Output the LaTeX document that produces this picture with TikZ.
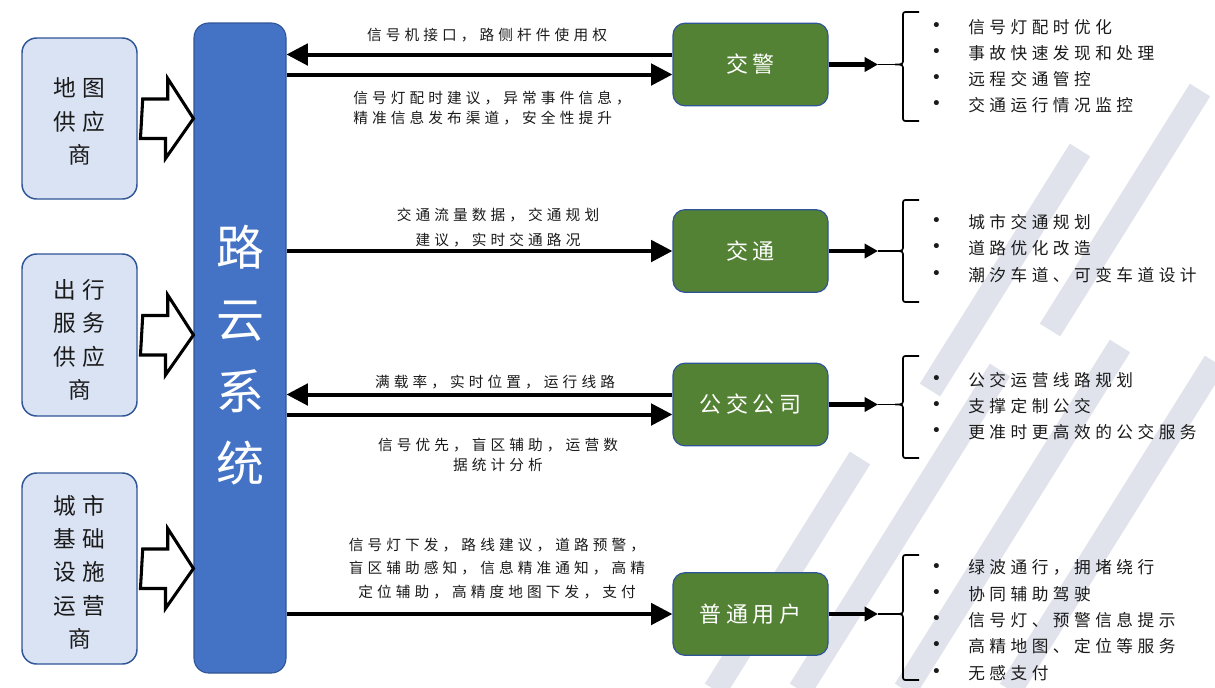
\documentclass[tikz,border=0pt]{standalone}
\usepackage{fontspec}
\setmainfont{Noto Sans CJK SC}
\newfontfamily\lblfont[LetterSpace=28]{Noto Sans CJK SC}
\newfontfamily\itemfont[LetterSpace=27]{Noto Sans CJK SC}
\newfontfamily\boxfont[LetterSpace=26]{Noto Sans CJK SC}
\newfontfamily\greenfont[LetterSpace=22]{Noto Sans CJK SC}
\newfontfamily\roadfont{Noto Sans CJK SC}
\newfontfamily\dotfont{DejaVu Sans}
\usetikzlibrary{arrows.meta,calc}
\definecolor{roadblue}{HTML}{4472C4}
\definecolor{edgeblue}{HTML}{2F5597}
\definecolor{lightblue}{HTML}{DAE3F3}
\definecolor{leafgreen}{HTML}{548235}
\definecolor{wmark}{HTML}{E0E3EC}
\definecolor{txt}{HTML}{1A1A1A}
\tikzset{
  srcbox/.style={draw=edgeblue, line width=1.1pt, fill=lightblue, rounded corners=11pt, minimum width=86.25pt, inner sep=0pt},
  roadbox/.style={draw=edgeblue, line width=0.8pt, fill=roadblue, rounded corners=11pt, minimum width=69pt, minimum height=487.5pt, inner sep=0pt},
  leaf/.style={draw=edgeblue, line width=0.9pt, fill=leafgreen, rounded corners=9pt, minimum width=116.25pt, minimum height=62pt, inner sep=0pt, text=white, font=\greenfont\fontsize{16.5}{20}\selectfont},
  srctext/.style={font=\boxfont\fontsize{17}{25}\selectfont, align=center, text=txt, inner sep=0pt},
  lbl/.style={font=\lblfont\fontsize{11}{15}\selectfont, align=center, text=txt, inner sep=0pt},
  itemtxt/.style={font=\itemfont\fontsize{12.5}{15}\selectfont, anchor=west, text=txt, inner sep=0pt},
  bulletdot/.style={font=\dotfont\fontsize{13}{15}\selectfont, anchor=west, text=txt, inner sep=0pt},
  flow/.style={line width=3pt, -{Triangle[length=16pt,width=16pt]}},
  outarr/.style={line width=3.5pt, -{Triangle[length=10pt,width=10.5pt]}},
  blockarr/.style={draw=black, line width=2.3pt, fill=white, line join=miter},
  bracesty/.style={line width=1.3pt},
  wm/.style={line width=18pt, draw=wmark, line cap=butt}
}
\newcommand\mybrace[4]{% x of spine, top, middle, bottom
  \draw[bracesty] (#1+16,#2) -- (#1+5,#2) .. controls (#1,#2) .. (#1,#2+5)
    -- (#1,#3-6) .. controls (#1,#3) .. (#1-8,#3) .. controls (#1,#3) .. (#1,#3+6)
    -- (#1,#4-5) .. controls (#1,#4) .. (#1+5,#4) -- (#1+16,#4);}
\begin{document}
\begin{tikzpicture}[x=0.75pt,y=-0.75pt]
\useasboundingbox (0,0) rectangle (1215,687);
% watermark
\draw[wm] (715,690) -- (860,458);
\draw[wm] (800,690) -- (1000,370);
\draw[wm] (905,690) -- (1120,346);
\draw[wm] (1010,690) -- (1215,362);
\draw[wm] (930,390) -- (1080,150);
\draw[wm] (1050,330) -- (1200,90);

% left source boxes
\node[srcbox, minimum height=120.75pt] (lb1) at (79.5,118.5) {};
\node[srcbox, minimum height=121.5pt] (lb2) at (79.5,335) {};
\node[srcbox, minimum height=143.25pt] (lb3) at (79.5,568.5) {};
\node[srctext] (lt1) at (79.5,121.5) {地图\\供应\\商};
\node[srctext] (lt2) at (79.5,340) {出行\\服务\\供应\\商};
\node[srctext] (lt3) at (79.5,572) {城市\\基础\\设施\\运营\\商};

% road cloud system
\node[roadbox] (road) at (240,348) {};
\node[text=white, font=\roadfont\fontsize{36}{54}\selectfont, align=center, inner sep=0pt] (roadtxt) at (240,355) {路\\云\\系\\统};

% block arrows
\foreach \s in {1,2,3}{
  \draw[blockarr] ([xshift=3.75pt]lb\s.east) ++(0,-19.5) -- ++(25,0) -- ++(0,-20.5)
    -- (road.west |- lb\s.east) -- ++(-28,40) -- ++(0,-20) -- ++(-25,0) -- cycle;
}

% green target boxes
\node[leaf] (jj) at (750.5,64.5) {交警};
\node[leaf] (jt) at (750.5,251) {交通};
\node[leaf] (gj) at (750.5,404.5) {公交公司};
\node[leaf] (yh) at (750.5,614) {普通用户};

% flows
\coordinate (jjup) at ([yshift=7.5pt]jj.west);
\coordinate (jjdn) at ([yshift=-7.5pt]jj.west);
\draw[flow] (jjup) -- (jjup -| road.east);
\draw[flow] (jjdn -| road.east) -- (jjdn);
\draw[flow] (jt.west -| road.east) -- (jt.west);
\coordinate (gjup) at ([yshift=7.5pt]gj.west);
\coordinate (gjdn) at ([yshift=-7.5pt]gj.west);
\draw[flow] (gjup) -- (gjup -| road.east);
\draw[flow] (gjdn -| road.east) -- (gjdn);
\draw[flow] (yh.west -| road.east) -- (yh.west);

% flow labels
\node[lbl] (l1) at (487,35) {信号机接口，路侧杆件使用权};
\node[lbl, align=left, anchor=west] (l2) at (353,108) {信号灯配时建议，异常事件信息，\\精准信息发布渠道，安全性提升};
\node[lbl, font=\lblfont\fontsize{11}{18.75}\selectfont] (l3) at (498,227.5) {交通流量数据，交通规划\\建议，实时交通路况};
\node[lbl] (l4) at (495,382) {满载率，实时位置，运行线路};
\node[lbl] (l5) at (498,455) {信号优先，盲区辅助，运营数\\据统计分析};
\node[lbl, font=\lblfont\fontsize{11}{17.6}\selectfont] (l6) at (497,568.5) {信号灯下发，路线建议，道路预警，\\盲区辅助感知，信息精准通知，高精\\定位辅助，高精度地图下发，支付};

% outgoing arrows and braces
\coordinate (bt1) at (895,64.5);
\coordinate (bt2) at (895,251);
\coordinate (bt3) at (895,404.5);
\coordinate (bt4) at (895,614);
\foreach \b/\n in {jj/1, jt/2, gj/3, yh/4}{
  \draw[outarr] (\b.east) -- ([xshift=-12.75pt]bt\n);
  \draw[line width=1.2pt] ([xshift=-12.75pt]bt\n) -- (bt\n);
}
\mybrace{903}{12}{64.5}{121}
\mybrace{903}{200}{251}{302}
\mybrace{903}{356}{404.5}{458}
\mybrace{903}{555}{614}{680}

% bullet items
\foreach \t [count=\i] in {信号灯配时优化, 事故快速发现和处理, 远程交通管控, 交通运行情况监控}{
  \node[bulletdot] (ja\i) at (931,1+26*\i) {•};
  \node[itemtxt] (jx\i) at (968,1+26*\i) {\t};
}
\foreach \t [count=\i] in {城市交通规划, 道路优化改造, 潮汐车道、可变车道设计}{
  \node[bulletdot] (ta\i) at (931,195.5+26.5*\i) {•};
  \node[itemtxt] (tx\i) at (968,195.5+26.5*\i) {\t};
}
\foreach \t [count=\i] in {公交运营线路规划, 支撑定制公交, 更准时更高效的公交服务}{
  \node[bulletdot] (ga\i) at (931,354+26*\i) {•};
  \node[itemtxt] (gx\i) at (968,354+26*\i) {\t};
}
\foreach \t [count=\i] in {绿波通行，拥堵绕行, 协同辅助驾驶, 信号灯、预警信息提示, 高精地图、定位等服务, 无感支付}{
  \node[bulletdot] (ya\i) at (931,541.5+26.25*\i) {•};
  \node[itemtxt] (yx\i) at (968,541.5+26.25*\i) {\t};
}
\end{tikzpicture}
\end{document}
